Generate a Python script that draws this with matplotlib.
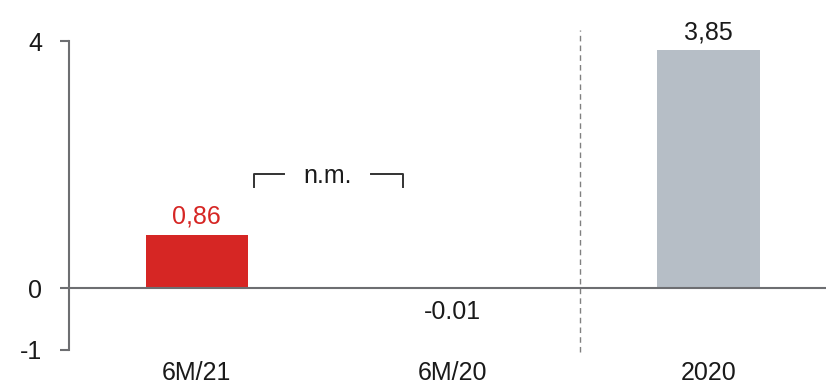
import matplotlib.pyplot as plt

plt.rcParams['font.family'] = ['Liberation Sans', 'DejaVu Sans']

# data
categories = ["6M/21", "6M/20", "2020"]
values = [0.86, -0.01, 3.85]
value_labels = ["0,86", "-0.01", "3,85"]
bar_colors = ["#d62624", "#d62624", "#b6bec6"]
label_colors = ["#d62624", "#1a1a1a", "#1a1a1a"]
y_ticks = [-1, 0, 4]

fig = plt.figure(figsize=(8.26, 3.88), dpi=100)
ax = fig.add_axes([0.0835, 0.098, 0.9165, 0.796])

x = range(len(categories))
ax.bar(x, values, width=0.4, color=bar_colors, zorder=2)

ax.set_xlim(-0.5, 2.46)
ax.set_ylim(-1, 4)

# zero line
ax.axhline(0, color="#6d6e71", lw=1.5, zorder=3)

# dashed separator between half-year and full-year
ax.axvline(1.5, ymin=-0.006, ymax=1.036, color="#808080", lw=1,
           ls=(0, (4, 3)), clip_on=False, zorder=1)

# value labels
for i, (v, lab, c) in enumerate(zip(values, value_labels, label_colors)):
    if v > 0:
        ax.text(i, v + 0.1, lab, ha="center", va="bottom", fontsize=18, color=c)
    else:
        ax.text(i, -0.39, lab, ha="center", va="center", fontsize=18, color=c)

# n.m. bracket
ax.plot([0.223, 0.223, 0.34], [1.64, 1.85, 1.85], color="#333333", lw=1.4)
ax.plot([0.68, 0.805, 0.805], [1.85, 1.85, 1.64], color="#333333", lw=1.4)
ax.text(0.51, 1.82, "n.m.", ha="center", va="center", fontsize=18, color="#1a1a1a")

# axes styling
for s in ["top", "right", "bottom"]:
    ax.spines[s].set_visible(False)
ax.spines["left"].set_color("#6d6e71")
ax.spines["left"].set_linewidth(1.5)
ax.set_yticks(y_ticks)
ax.set_yticklabels([str(t) for t in y_ticks])
ax.tick_params(axis="y", length=6.5, width=1.5, color="#6d6e71", labelsize=18,
               pad=13, labelcolor="#1a1a1a")
ax.set_xticks(list(x))
ax.set_xticklabels(categories)
ax.tick_params(axis="x", length=0, labelsize=18, pad=8, labelcolor="#1a1a1a")

fig.savefig("out.png", dpi=100)
